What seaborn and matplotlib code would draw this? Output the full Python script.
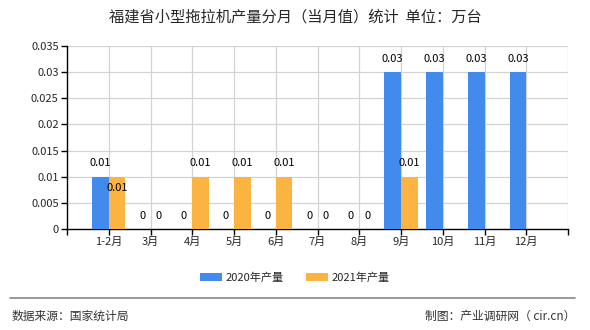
import numpy as np
import pandas as pd
import matplotlib
matplotlib.use("Agg")
import matplotlib.pyplot as plt
import seaborn as sns

categories = ["1-2月", "3月", "4月", "5月", "6月", "7月", "8月", "9月", "10月", "11月", "12月"]
values_2020 = [0.01, 0, 0, 0, 0, 0, 0, 0.03, 0.03, 0.03, 0.03]
values_2021 = [0.01, 0, 0.01, 0.01, 0.01, 0, 0, 0.01, np.nan, np.nan, np.nan]
series_names = ["2020年产量", "2021年产量"]
yticks = [0, 0.005, 0.01, 0.015, 0.02, 0.025, 0.03, 0.035]
ytick_labels = ["0", "0.005", "0.01", "0.015", "0.02", "0.025", "0.03", "0.035"]
title = "福建省小型拖拉机产量分月（当月值）统计  单位：万台"
source = "数据来源：国家统计局"
credit = "制图：产业调研网（ cir.cn）"

colors = ["#428bed", "#fbb341"]

sns.set_theme(style="white")
plt.rcParams['font.family'] = ['Noto Sans CJK SC', 'DejaVu Sans']

df = pd.DataFrame({
    "month": categories * 2,
    "value": values_2020 + values_2021,
    "series": [series_names[0]] * len(categories) + [series_names[1]] * len(categories),
})

fig = plt.figure(figsize=(5.9, 3.3), dpi=100)
ax = fig.add_axes([67 / 590, 101 / 330, 501 / 590, 183 / 330])

sns.barplot(data=df, x="month", y="value", hue="series", palette=colors,
            order=categories, hue_order=series_names, width=0.8, saturation=1,
            ax=ax, legend=True, zorder=3, linewidth=0)

ax.set_xlim(-1, len(categories))
ax.set_ylim(0, 0.035)
ax.set_yticks(yticks)
ax.set_yticklabels(ytick_labels, fontsize=8)
ax.set_xticks(range(len(categories)))
ax.set_xticklabels(categories, fontsize=8)
ax.set_xlabel("")
ax.set_ylabel("")

# grid
for y in yticks[1:]:
    ax.axhline(y, color="#d3d3d3", lw=0.9, zorder=0)
for x in list(range(len(categories))) + [len(categories)]:
    ax.axvline(x, color="#d3d3d3", lw=0.9, zorder=0)

for s in ["top", "right"]:
    ax.spines[s].set_visible(False)
for s in ["left", "bottom"]:
    ax.spines[s].set_color("black")
    ax.spines[s].set_linewidth(1.0)
ax.tick_params(axis="both", which="both", length=4, width=1, color="black",
               left=True, bottom=True, pad=2)
ax.set_xticks(list(range(-1, len(categories) + 1)), minor=True)
ax.tick_params(axis="x", which="minor", length=4, width=1, color="black")

# value labels
for si, cont in enumerate(ax.containers):
    for p in cont.patches:
        h = p.get_height()
        if h is None or np.isnan(h):
            continue
        cx = p.get_x() + p.get_width() / 2
        idx = int(round(cx))
        label = f"{h:g}"
        offset = 6
        if si == 1 and h > 0:
            other = values_2020[idx]
            if not np.isnan(other) and other == h:
                offset = -12
        ax.annotate(label, (cx, h), xytext=(0, offset), textcoords="offset points",
                    ha="center", va="bottom", fontsize=8, color="black", zorder=5)

# legend
leg = ax.get_legend()
handles, labels = ax.get_legend_handles_labels()
leg.remove()
fig.legend(handles, labels, loc="center", bbox_to_anchor=(0.5, 1 - 278 / 330),
           ncol=2, frameon=False, fontsize=8, handlelength=2.0, handleheight=0.7,
           columnspacing=2.0, handletextpad=0.3)

fig.text(0.5, 1 - 17 / 330, title, ha="center", va="center", fontsize=11)
fig.add_artist(plt.Line2D([10 / 590, 575 / 590], [1 - 298 / 330, 1 - 298 / 330],
                          color="#888888", lw=1.2))
fig.text(12 / 590, 1 - 316 / 330, source, ha="left", va="center", fontsize=8.5, color="#333333")
fig.text(575 / 590, 1 - 316 / 330, credit, ha="right", va="center", fontsize=8.5, color="#333333")

fig.savefig("out.png", dpi=100)
